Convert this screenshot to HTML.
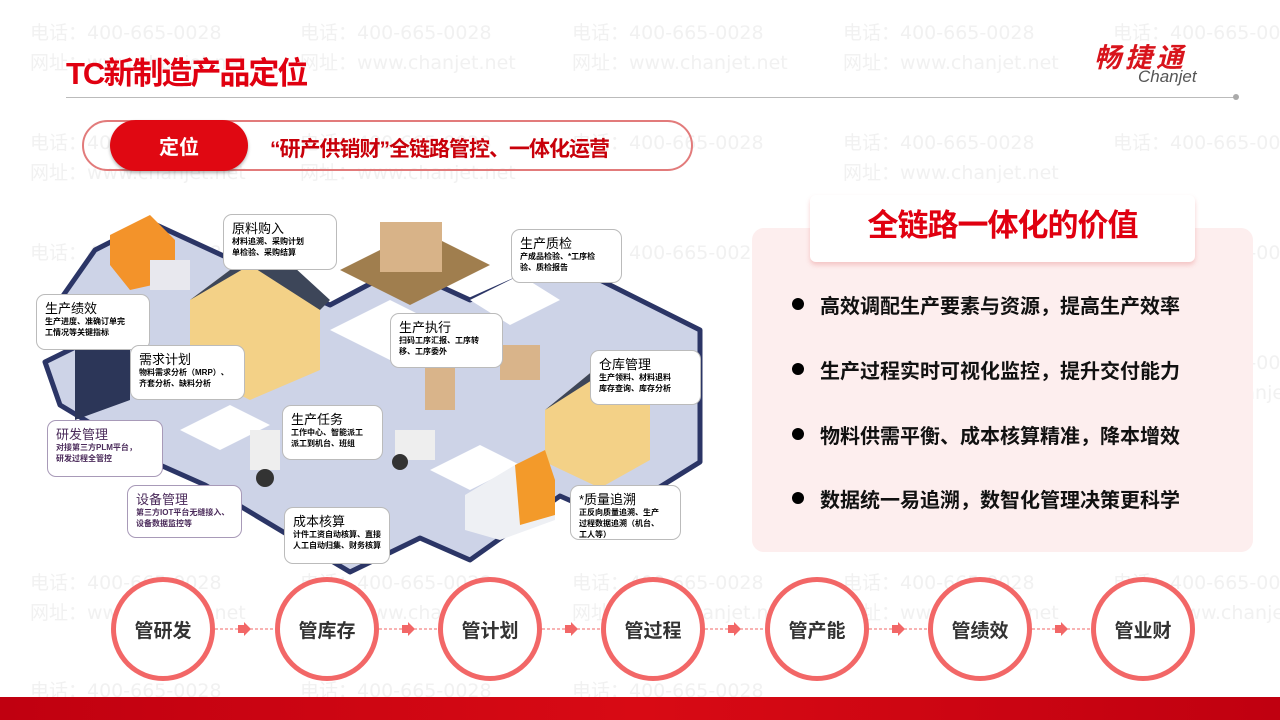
<!DOCTYPE html>
<html><head><meta charset="utf-8"><style>
*{margin:0;padding:0;box-sizing:border-box}
body{width:1280px;height:720px;position:relative;overflow:hidden;background:#fff;font-family:"Liberation Sans","Noto Sans CJK SC",sans-serif}
.wm{position:absolute;color:#f1f1f1;font-size:19px;white-space:nowrap;font-family:"DejaVu Sans","Noto Sans CJK SC",sans-serif;z-index:0}
.lb{position:absolute;background:#fff;border:1px solid #bbb;border-radius:9px;padding:6px 8px;font-size:8px;line-height:11px;color:#000;font-weight:bold;z-index:3}
.lb b{display:block;font-size:13px;line-height:15px;font-weight:normal}
.c{position:absolute;width:104px;height:104px;border:5px solid #f26767;border-radius:50%;background:#fff;display:flex;align-items:center;justify-content:center;font-size:19px;font-weight:bold;color:#333;z-index:3}
.bl{position:absolute;left:820px;font-size:20px;font-weight:bold;color:#111;z-index:3}
.bl:before{content:"";position:absolute;left:-28px;top:8px;width:12px;height:12px;border-radius:50%;background:#000}
</style></head><body>
<div class="wm" style="left:30px;top:18px">电话：400-665-0028</div><div class="wm" style="left:300px;top:18px">电话：400-665-0028</div><div class="wm" style="left:572px;top:18px">电话：400-665-0028</div><div class="wm" style="left:843px;top:18px">电话：400-665-0028</div><div class="wm" style="left:1113px;top:18px">电话：400-665-0028</div>
<div class="wm" style="left:30px;top:48px">网址：www.chanjet.net</div><div class="wm" style="left:300px;top:48px">网址：www.chanjet.net</div><div class="wm" style="left:572px;top:48px">网址：www.chanjet.net</div><div class="wm" style="left:843px;top:48px">网址：www.chanjet.net</div>
<div class="wm" style="left:30px;top:128px">电话：400-665-0028</div><div class="wm" style="left:300px;top:128px">电话：400-665-0028</div><div class="wm" style="left:572px;top:128px">电话：400-665-0028</div><div class="wm" style="left:843px;top:128px">电话：400-665-0028</div><div class="wm" style="left:1113px;top:128px">电话：400-665-0028</div>
<div class="wm" style="left:30px;top:158px">网址：www.chanjet.net</div><div class="wm" style="left:300px;top:158px">网址：www.chanjet.net</div><div class="wm" style="left:843px;top:158px">网址：www.chanjet.net</div>
<div class="wm" style="left:30px;top:238px">电话：400-665-0028</div><div class="wm" style="left:572px;top:238px">电话：400-665-0028</div><div class="wm" style="left:1113px;top:238px">电话：400-665-0028</div>
<div class="wm" style="left:843px;top:268px">网址：www.chanjet.net</div>
<div class="wm" style="left:1113px;top:348px">电话：400-665-0028</div><div class="wm" style="left:1113px;top:378px">网址：www.chanjet.net</div>
<div class="wm" style="left:30px;top:568px">电话：400-665-0028</div><div class="wm" style="left:300px;top:568px">电话：400-665-0028</div><div class="wm" style="left:572px;top:568px">电话：400-665-0028</div><div class="wm" style="left:843px;top:568px">电话：400-665-0028</div><div class="wm" style="left:1113px;top:568px">电话：400-665-0028</div>
<div class="wm" style="left:30px;top:598px">网址：www.chanjet.net</div><div class="wm" style="left:300px;top:598px">网址：www.chanjet.net</div><div class="wm" style="left:572px;top:598px">网址：www.chanjet.net</div><div class="wm" style="left:843px;top:598px">网址：www.chanjet.net</div><div class="wm" style="left:1113px;top:598px">网址：www.chanjet.net</div>
<div class="wm" style="left:30px;top:676px">电话：400-665-0028</div><div class="wm" style="left:300px;top:676px">电话：400-665-0028</div><div class="wm" style="left:572px;top:676px">电话：400-665-0028</div>

<div style="position:absolute;left:66px;top:48px;font-size:31px;font-weight:bold;color:#e00010;letter-spacing:-2px;z-index:3">TC新制造产品定位</div>
<div style="position:absolute;left:1094px;top:36px;font-size:27px;font-weight:bold;color:#d8141c;font-style:italic;letter-spacing:4px;z-index:3">畅捷通</div>
<div style="position:absolute;left:1138px;top:67px;font-size:17px;color:#555;font-style:italic;z-index:3">Chanjet</div>
<div style="position:absolute;left:66px;top:97px;width:1170px;height:1px;background:#bbb;z-index:3"></div>
<div style="position:absolute;left:1233px;top:94px;width:6px;height:6px;border-radius:50%;background:#aaa;z-index:3"></div>

<div style="position:absolute;left:82px;top:120px;width:611px;height:51px;border:2px solid #e27b7b;border-radius:26px;z-index:2"></div>
<div style="position:absolute;left:110px;top:120px;width:138px;height:51px;background:#e00812;border-radius:26px;color:#fff;font-size:20px;font-weight:bold;display:flex;align-items:center;justify-content:center;z-index:3;box-shadow:0 2px 3px rgba(0,0,0,.3)">定位</div>
<div style="position:absolute;left:270px;top:133px;font-size:21px;font-weight:bold;color:#c8000a;letter-spacing:-1px;z-index:3">“研产供销财”全链路管控、一体化运营</div>

<svg style="position:absolute;left:0;top:0;z-index:1" width="720" height="580">
<polygon points="95,250 150,222 330,305 400,268 470,300 560,260 700,330 700,462 610,518 560,496 470,560 420,538 350,572 205,485 160,465 60,405 45,362 110,330 60,300" fill="#cdd3e7" stroke="#2b3566" stroke-width="5" stroke-linejoin="round"/>
<polygon points="330,330 390,300 450,330 390,360" fill="#fff"/>
<polygon points="470,300 520,275 560,300 510,325" fill="#fff"/>
<polygon points="180,430 230,405 270,425 220,450" fill="#fff"/>
<polygon points="430,470 480,445 520,465 470,490" fill="#fff"/>
<polygon points="340,270 420,230 490,265 410,305" fill="#a07e4e"/>
<rect x="380" y="222" width="62" height="50" fill="#d8b388"/>
<polygon points="190,300 250,255 320,300 320,370 250,400 190,370" fill="#f3d187"/>
<polygon points="190,300 250,255 270,245 330,300 320,310 250,265" fill="#3d4659"/>
<polygon points="545,410 600,365 650,395 650,460 600,488 545,462" fill="#f3d187"/>
<polygon points="545,410 600,365 620,355 665,395 650,405 600,375" fill="#3d4659"/>
<polygon points="110,235 150,215 175,240 175,280 130,290 110,265" fill="#f3932a"/>
<rect x="150" y="260" width="40" height="30" fill="#e8e8ee"/>
<polygon points="465,495 515,465 555,480 555,520 500,540 465,530" fill="#eef0f4"/>
<polygon points="515,465 545,450 555,480 555,515 520,525" fill="#f39a2a"/>
<rect x="425" y="360" width="30" height="50" fill="#d9b48a"/>
<rect x="500" y="345" width="40" height="35" fill="#d9b48a"/>
<rect x="250" y="430" width="30" height="40" fill="#eee"/><circle cx="265" cy="478" r="9" fill="#333"/>
<rect x="395" y="430" width="40" height="30" fill="#eee"/><circle cx="400" cy="462" r="8" fill="#333"/>
<polygon points="75,330 130,300 130,400 75,420" fill="#2c3658"/>
</svg>

<div class="lb" style="left:223px;top:214px;width:114px;height:56px"><b>原料购入</b>材料追溯、采购计划<br>单检验、采购结算</div>
<div class="lb" style="left:511px;top:229px;width:111px;height:54px"><b>生产质检</b>产成品检验、*工序检<br>验、质检报告</div>
<div class="lb" style="left:36px;top:294px;width:114px;height:56px"><b>生产绩效</b>生产进度、准确订单完<br>工情况等关键指标</div>
<div class="lb" style="left:130px;top:345px;width:115px;height:55px"><b>需求计划</b>物料需求分析（MRP）、<br>齐套分析、缺料分析</div>
<div class="lb" style="left:390px;top:313px;width:113px;height:55px"><b>生产执行</b>扫码工序汇报、工序转<br>移、工序委外</div>
<div class="lb" style="left:590px;top:350px;width:111px;height:55px"><b>仓库管理</b>生产领料、材料退料<br>库存查询、库存分析</div>
<div class="lb" style="left:47px;top:420px;width:116px;height:57px;border-color:#a89ab8;color:#4a2a5a"><b>研发管理</b>对接第三方PLM平台，<br>研发过程全管控</div>
<div class="lb" style="left:282px;top:405px;width:101px;height:55px"><b>生产任务</b>工作中心、智能派工<br>派工到机台、班组</div>
<div class="lb" style="left:127px;top:485px;width:115px;height:53px;border-color:#a89ab8;color:#4a2a5a"><b>设备管理</b>第三方IOT平台无缝接入、<br>设备数据监控等</div>
<div class="lb" style="left:284px;top:507px;width:106px;height:57px"><b>成本核算</b>计件工资自动核算、直接<br>人工自动归集、财务核算</div>
<div class="lb" style="left:570px;top:485px;width:111px;height:55px"><b>*质量追溯</b>正反向质量追溯、生产<br>过程数据追溯（机台、<br>工人等）</div>

<div style="position:absolute;left:752px;top:228px;width:501px;height:324px;background:#fdeeee;border-radius:12px;z-index:1"></div>
<div style="position:absolute;left:810px;top:195px;width:385px;height:67px;background:#fff;border-radius:6px;box-shadow:0 3px 5px rgba(230,120,120,.35);z-index:2;text-align:center;font-size:31px;font-weight:bold;color:#e00010;line-height:62px;letter-spacing:-1px">全链路一体化的价值</div>
<div class="bl" style="top:290px">高效调配生产要素与资源，提高生产效率</div>
<div class="bl" style="top:355px">生产过程实时可视化监控，提升交付能力</div>
<div class="bl" style="top:420px">物料供需平衡、成本核算精准，降本增效</div>
<div class="bl" style="top:484px">数据统一易追溯，数智化管理决策更科学</div>

<svg style="position:absolute;left:0;top:620px;z-index:2" width="1280" height="20">
<g stroke="#f26767" stroke-width="1" stroke-dasharray="3,2"><line x1="215" y1="9" x2="275" y2="9"/><line x1="379" y1="9" x2="439" y2="9"/><line x1="542" y1="9" x2="602" y2="9"/><line x1="705" y1="9" x2="765" y2="9"/><line x1="869" y1="9" x2="929" y2="9"/><line x1="1032" y1="9" x2="1092" y2="9"/></g>
<g fill="#f26767"><path d="M238 5h6v-3l7 7-7 7v-3h-6z"/><path d="M402 5h6v-3l7 7-7 7v-3h-6z"/><path d="M565 5h6v-3l7 7-7 7v-3h-6z"/><path d="M728 5h6v-3l7 7-7 7v-3h-6z"/><path d="M892 5h6v-3l7 7-7 7v-3h-6z"/><path d="M1055 5h6v-3l7 7-7 7v-3h-6z"/></g>
</svg>
<div class="c" style="left:111px;top:577px">管研发</div>
<div class="c" style="left:275px;top:577px">管库存</div>
<div class="c" style="left:438px;top:577px">管计划</div>
<div class="c" style="left:601px;top:577px">管过程</div>
<div class="c" style="left:765px;top:577px">管产能</div>
<div class="c" style="left:928px;top:577px">管绩效</div>
<div class="c" style="left:1091px;top:577px">管业财</div>
<div style="position:absolute;left:0;top:697px;width:1280px;height:23px;background:linear-gradient(90deg,#c00010,#d80a14,#c00010);z-index:3"></div>
</body></html>
